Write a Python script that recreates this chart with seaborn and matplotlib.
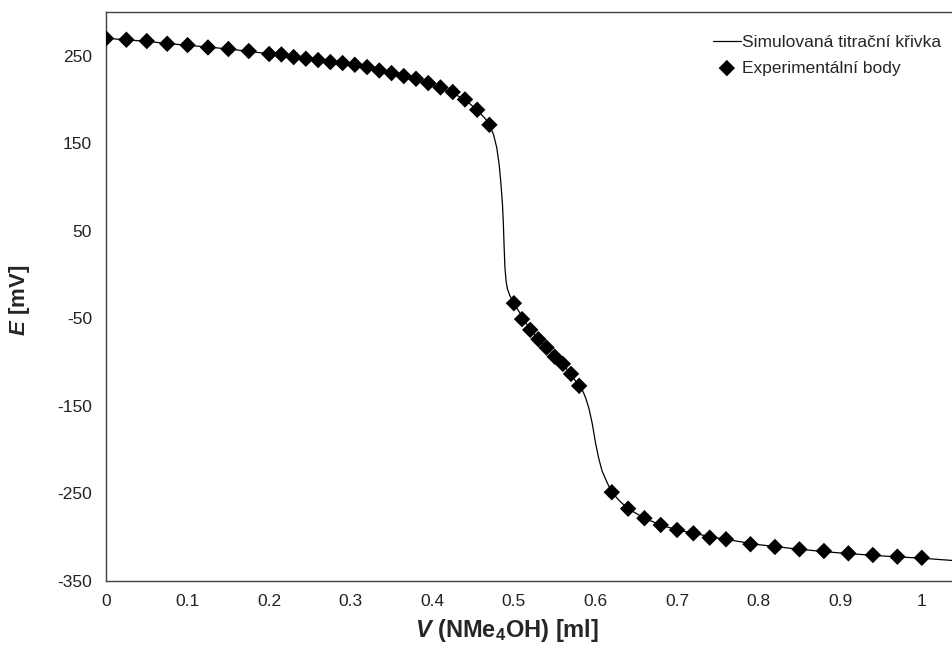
import matplotlib
matplotlib.use("Agg")
import matplotlib.pyplot as plt
import seaborn as sns
import pandas as pd

# Experimental points
exp_v = [0.0, 0.025, 0.05, 0.075, 0.1, 0.125, 0.15, 0.175, 0.2, 0.215, 0.23, 0.245, 0.26,
         0.275, 0.29, 0.305, 0.32, 0.335, 0.35, 0.365, 0.38, 0.395, 0.41, 0.425, 0.44, 0.455, 0.47,
         0.50, 0.51, 0.52, 0.53, 0.54, 0.55, 0.56, 0.57, 0.58,
         0.62, 0.64, 0.66, 0.68, 0.70, 0.72, 0.74, 0.76, 0.79,
         0.82, 0.85, 0.88, 0.91, 0.94, 0.97, 1.00]
exp_e = [269.8, 268.3, 266.8, 263.7, 262.2, 259.5, 257.7, 255.4, 252.0, 251.5, 248.5, 246.6, 245.1,
         242.8, 241.7, 239.7, 237.1, 233.2, 230.2, 226.8, 223.7, 218.8, 213.8, 208.6, 200.1, 188.3, 171.1,
         -32.7, -50.9, -63.1, -73.8, -83.4, -93.7, -102.0, -113.4, -127.1,
         -248.6, -267.4, -278.3, -286.0, -291.7, -295.5, -300.5, -302.3, -308.0,
         -311.1, -313.8, -315.7, -318.4, -320.3, -322.2, -323.5]

# Simulated titration curve
sim_v = [0.0, 0.025, 0.05, 0.075, 0.1, 0.15, 0.2, 0.25, 0.3, 0.35, 0.38, 0.41, 0.43, 0.445,
         0.455, 0.465, 0.47, 0.475, 0.479, 0.482, 0.484, 0.486, 0.487, 0.488, 0.489, 0.4905,
         0.492, 0.495, 0.5, 0.52, 0.54, 0.56, 0.58, 0.584, 0.588, 0.592, 0.596, 0.6, 0.604,
         0.608, 0.6135, 0.62, 0.63, 0.64, 0.66, 0.68, 0.7, 0.75, 0.8, 0.85, 0.9, 0.95, 1.0, 1.037]
sim_e = [270.0, 268.2, 266.5, 264.0, 262.0, 257.8, 252.3, 246.2, 240.6, 230.4, 223.5, 213.6, 205.0,
         196.0, 188.0, 178.0, 171.0, 160.0, 145.0, 125.0, 105.0, 80.0, 60.0, 32.0, 8.0, -8.0,
         -16.0, -24.0, -32.7, -63.0, -83.5, -102.0, -127.0, -132.0, -141.0, -153.0, -170.0,
         -192.0, -210.0, -224.0, -236.0, -248.6, -259.0, -267.4, -278.3, -286.0, -291.7,
         -301.0, -308.5, -313.8, -318.0, -321.3, -324.0, -326.5]

xticks = [0, 0.1, 0.2, 0.3, 0.4, 0.5, 0.6, 0.7, 0.8, 0.9, 1.0]
xticklabels = ["0", "0.1", "0.2", "0.3", "0.4", "0.5", "0.6", "0.7", "0.8", "0.9", "1"]
yticks = [-350, -250, -150, -50, 50, 150, 250]
yticklabels = ["-350", "-250", "-150", "-50", "50", "150", "250"]

sns.set_theme(style="white")
plt.rcParams["font.family"] = ["Liberation Sans", "DejaVu Sans"]
plt.rcParams["axes.unicode_minus"] = False
plt.rcParams["mathtext.fontset"] = "custom"
plt.rcParams["mathtext.it"] = "Liberation Sans:italic:bold"
plt.rcParams["mathtext.rm"] = "Liberation Sans:bold"
plt.rcParams["mathtext.bf"] = "Liberation Sans:bold"

fig = plt.figure(figsize=(9.52, 6.48), dpi=100)
ax = fig.add_axes([106 / 952, 1 - 581 / 648, 1 - 106 / 952, (581 - 12) / 648])

sim_df = pd.DataFrame({"V": sim_v, "E": sim_e})
exp_df = pd.DataFrame({"V": exp_v, "E": exp_e})

sns.lineplot(data=sim_df, x="V", y="E", ax=ax, color="black", linewidth=0.9,
             sort=False, estimator=None, label="Simulovaná titrační křivka")
sns.scatterplot(data=exp_df, x="V", y="E", ax=ax, color="black", marker="D", s=70,
                edgecolor="none", label="Experimentální body", zorder=3)

ax.set_xlim(0, 1.037)
ax.set_ylim(-350, 300)
ax.set_xticks(xticks)
ax.set_xticklabels(xticklabels)
ax.set_yticks(yticks)
ax.set_yticklabels(yticklabels)
ax.tick_params(axis="both", direction="in", length=5, width=1, color="#404040",
               labelsize=12.5, labelcolor="#222222")
ax.tick_params(axis="x", pad=9)
ax.tick_params(axis="y", pad=10)
for side in ["left", "bottom", "top"]:
    ax.spines[side].set_color("#404040")
    ax.spines[side].set_linewidth(1.0)
ax.spines["right"].set_visible(False)

ax.set_xlabel(r"$\mathit{V}$ (NMe$_{4}$OH) [ml]", fontsize=17, fontweight="bold")
ax.set_ylabel(r"$\mathit{E}$ [mV]", fontsize=16, fontweight="bold")
ax.xaxis.set_label_coords((507 - 106) / 846, -(630 - 581) / 569, transform=ax.transAxes)
ax.yaxis.set_label_coords((20 - 106) / 846, (581 - 300) / 569, transform=ax.transAxes)
ax.xaxis.label.set_va("center")
ax.yaxis.label.set_va("center")

leg = ax.legend(loc="upper right", bbox_to_anchor=(1.0, 0.978), frameon=False, fontsize=12.5,
                handlelength=1.6, handletextpad=0.1, labelspacing=0.6, borderaxespad=0.2)

fig.savefig("out.png", dpi=100)
